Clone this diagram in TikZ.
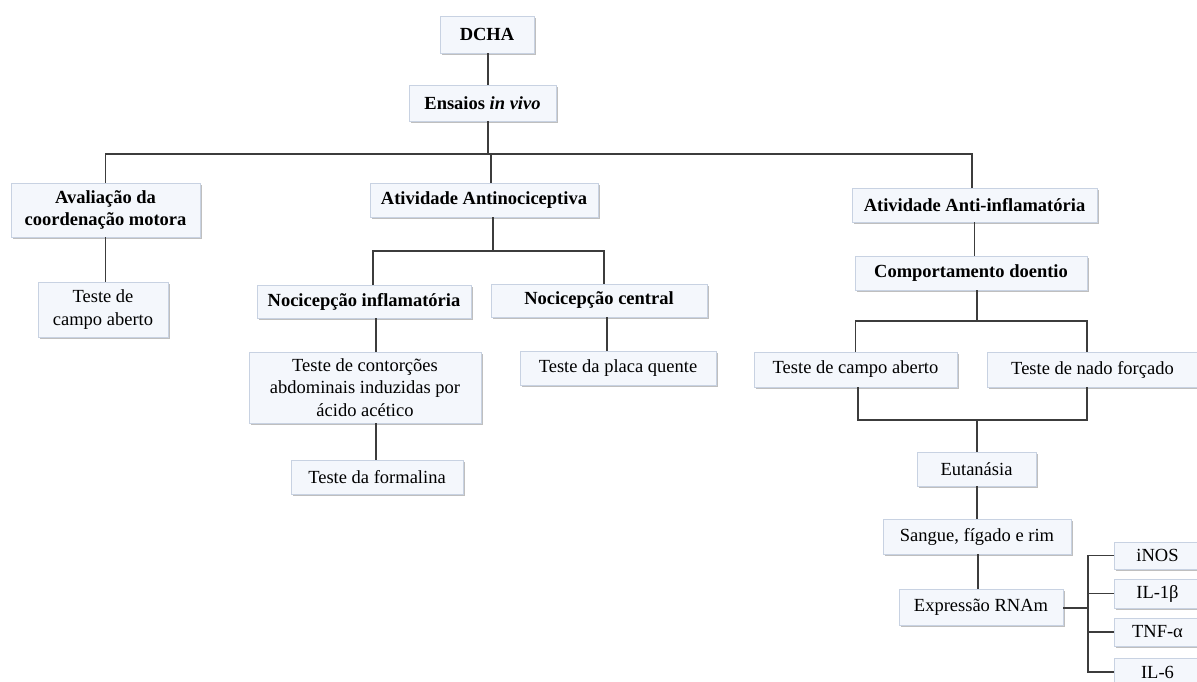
\documentclass[tikz,border=0pt]{standalone}
\usepackage{fontspec}
\setmainfont{Liberation Serif}
\usetikzlibrary{shadows}
\definecolor{boxfill}{HTML}{F4F7FC}
\definecolor{boxline}{HTML}{C8D2E2}
\definecolor{conn}{HTML}{3C3C3C}
\tikzset{
  bx/.style={draw=boxline, line width=0.8pt, fill=boxfill, inner sep=0pt,
    font=\fontsize{18.5}{22.5}\selectfont, align=center,
    drop shadow={shadow xshift=1.6pt, shadow yshift=-1.6pt, fill=black!45, opacity=0.55}},
  bbx/.style={bx, font=\fontsize{18.5}{22.5}\selectfont\bfseries},
  wire/.style={draw=conn, line width=1.1pt}
}
\begin{document}
\begin{tikzpicture}[x=1pt, y=-1pt]
\useasboundingbox (0,0) rectangle (1197,681);
\clip (0,0) rectangle (1197,681);
\fill[white] (0,0) rectangle (1197,681);

% nodes
\node[bbx, minimum width=94pt, minimum height=37pt] (dcha) at (487,34.5) {DCHA};
\node[bbx, minimum width=147pt, minimum height=36pt] (ensaios) at (482.5,103) {Ensaios \textit{in vivo}};
\node[bbx, minimum width=189pt, minimum height=54pt] (aval) at (105.5,210) {Avaliação da\\coordenação motora};
\node[bx, minimum width=130pt, minimum height=55pt] (tca1) at (103,309.5) {Teste de\\campo aberto};
\node[bbx, minimum width=228pt, minimum height=34pt] (antinoc) at (484,200) {Atividade Antinociceptiva};
\node[bbx, minimum width=214pt, minimum height=33pt] (nocinf) at (364,301.5) {Nocicepção inflamatória};
\node[bbx, minimum width=216pt, minimum height=33pt] (noccen) at (599,300.5) {Nocicepção central};
\node[bx, minimum width=232pt, minimum height=71pt] (contor) at (365,387.5) {Teste de contorções\\abdominais induzidas por\\ácido acético};
\node[bx, minimum width=172pt, minimum height=34pt] (formal) at (377,477) {Teste da formalina};
\node[bx, minimum width=196pt, minimum height=34pt] (placa) at (618,368) {Teste da placa quente};
\node[bbx, minimum width=245pt, minimum height=34pt] (antiinf) at (974.5,205) {Atividade Anti-inflamatória};
\node[bbx, minimum width=232pt, minimum height=34pt] (comport) at (971,273) {Comportamento doentio};
\node[bx, minimum width=203pt, minimum height=35pt] (tca2) at (855.5,369.5) {Teste de campo aberto};
\node[bx, minimum width=211pt, minimum height=35pt] (nado) at (1092.5,369.5) {Teste de nado forçado};
\node[bx, minimum width=119pt, minimum height=34pt] (eutan) at (976.5,469) {Eutanásia};
\node[bx, minimum width=188pt, minimum height=35pt] (sangue) at (977,536.5) {Sangue, fígado e rim};
\node[bx, minimum width=164pt, minimum height=36pt] (expr) at (981,607) {Expressão RNAm};
\node[bx, minimum width=87pt, minimum height=27pt] (inos) at (1157.5,555.5) {iNOS};
\node[bx, minimum width=87pt, minimum height=29pt] (il1b) at (1157.5,593.5) {IL-1β};
\node[bx, minimum width=87pt, minimum height=28pt] (tnf) at (1157.5,632) {TNF-α};
\node[bx, minimum width=87pt, minimum height=28pt] (il6) at (1157.5,672) {IL-6};

% bus coordinates
\coordinate (busA) at (488,154);
\coordinate (busB) at (493,251);
\coordinate (busC) at (977,321);
\coordinate (busD) at (977,420);
\coordinate (busE) at (1088,608);

% connectors
\draw[wire] ([xshift=1pt]dcha.south) -- ([xshift=1pt]dcha.south |- ensaios.north);
\draw[wire] ([xshift=5.5pt]ensaios.south) -- (busA);
\draw[wire] (aval.north) |- ([xshift=-2.5pt]antiinf.north |- busA) -- ([xshift=-2.5pt]antiinf.north);
\draw[wire] ([xshift=7pt]antinoc.north) -- ([xshift=7pt]antinoc.north |- busA);
\draw[wire] (aval.south) -- (aval.south |- tca1.north);

\draw[wire] ([xshift=9pt]antinoc.south) -- (busB);
\draw[wire] ([xshift=9pt]nocinf.north) |- ([xshift=5pt]noccen.north |- busB) -- ([xshift=5pt]noccen.north);
\draw[wire] ([xshift=12pt]nocinf.south) -- ([xshift=12pt]nocinf.south |- contor.north);
\draw[wire] ([xshift=-1pt]formal.north) -- ([xshift=-1pt]formal.north |- contor.south);
\draw[wire] ([xshift=8pt]noccen.south) -- ([xshift=8pt]noccen.south |- placa.north);

\draw[wire] (antiinf.south) -- (antiinf.south |- comport.north);
\draw[wire] ([xshift=6pt]comport.south) -- (busC);
\draw[wire] (tca2.north) |- ([xshift=-5.5pt]nado.north |- busC) -- ([xshift=-5.5pt]nado.north);
\draw[wire] ([xshift=2.5pt]tca2.south) |- ([xshift=-5.5pt]nado.south |- busD) -- ([xshift=-5.5pt]nado.south);
\draw[wire] (busD) -- (busD |- eutan.north);
\draw[wire] ([xshift=0.5pt]eutan.south) -- ([xshift=0.5pt]eutan.south |- sangue.north);
\draw[wire] ([xshift=1pt]sangue.south) -- ([xshift=1pt]sangue.south |- expr.north);

\draw[wire] (expr.east |- busE) -- (busE);
\draw[wire] (inos.west) -| (busE |- il6.west) -- (il6.west);
\draw[wire] (il1b.west) -- (busE |- il1b.west);
\draw[wire] (tnf.west) -- (busE |- tnf.west);
\end{tikzpicture}
\end{document}
